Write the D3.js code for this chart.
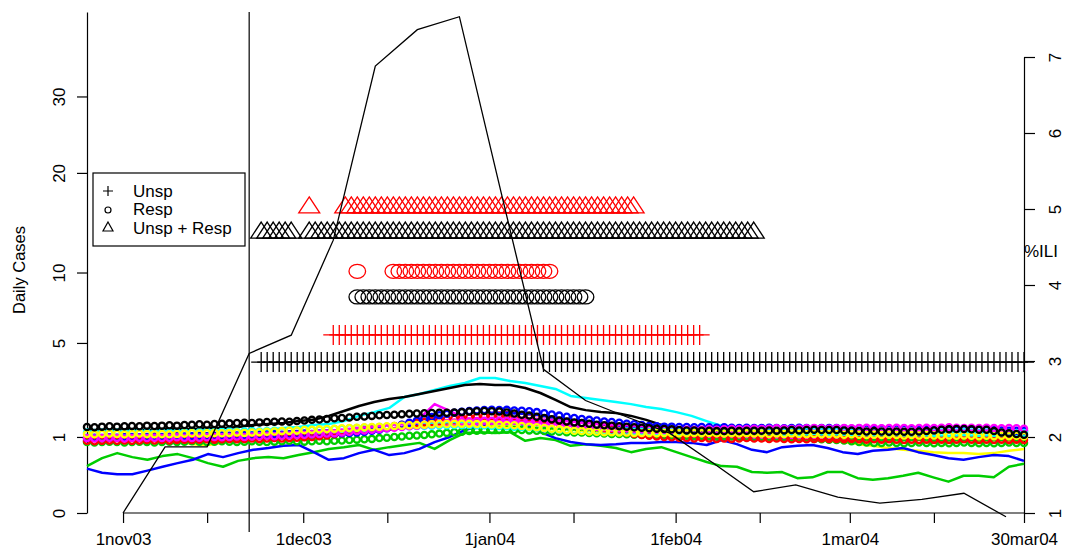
<!DOCTYPE html>
<html><head><meta charset="utf-8">
<script src="https://cdn.jsdelivr.net/npm/d3@7"></script>
<style>
body{margin:0;background:#fff}
svg{display:block}
text{font-family:"Liberation Sans",Arial,Helvetica,sans-serif;fill:#000}
</style>
</head><body>
<svg id="c" width="1067" height="550"></svg>
<script>
// ---------- data ----------
const startDate = "2003-10-26", endDate = "2004-03-30";
const yTop = 43.4;
const yTicks = [0, 1, 5, 10, 20, 30];
const iliTicks = [1, 2, 3, 4, 5, 6, 7];
const majorTickDates = ["2003-11-01","2003-12-01","2004-01-01","2004-02-01","2004-03-01","2004-03-30"];
const majorTickLabels = ["1nov03","1dec03","1jan04","1feb04","1mar04","30mar04"];
const minorTickDates = ["2003-11-15","2003-12-15","2004-01-15","2004-02-15","2004-03-15"];
const markerLineDate = "2003-11-22";

// weekly %ILI starting 1 Nov 2003
const iliStart = "2003-11-01";
const iliValues = [1.0,1.87,1.87,3.10,3.34,4.59,6.88,7.36,7.53,5.2,2.89,2.48,2.26,2.05,1.67,1.28,1.37,1.21,1.13,1.18,1.26,0.95];

// alarm rows: day offsets from startDate (inclusive ranges) and row level (daily cases)
const unspBlackDays = [[29,156]];   const unspBlackLevel = 3.94;
const unspRedDays   = [[41,102]];   const unspRedLevel   = 5.48;
const respBlackDays = [[45,83]];    const respBlackLevel = 8.07;
const respRedDays   = [[45,45],[51,77]]; const respRedLevel = 10.1;
const bothBlackDays = [[29,34],[37,111]]; const bothBlackLevel = 13.65;
const bothRedDays   = [[37,37],[43,91]];  const bothRedLevel   = 16.2;

// solid-line series (63 points across the date range)
const lineCyan = [0.92,0.92,0.95,0.95,0.97,0.97,1.00,1.00,1.03,1.05,
1.11,1.13,1.19,1.25,1.28,1.34,1.37,1.46,1.63,1.76,
1.91,2.33,2.45,2.62,2.79,2.92,3.15,3.15,3.01,2.92,
2.79,2.66,2.37,2.29,2.21,2.13,2.05,1.94,1.87,1.76,
1.63,1.46,1.31,1.25,1.22,1.19,1.16,1.19,1.16,1.13,
1.16,1.19,1.16,1.13,1.16,1.13,1.16,1.19,1.16,1.13,
1.16,1.13,1.11];
const lineBlack = [1.19,1.19,1.19,1.22,1.19,1.22,1.22,1.22,1.25,1.25,
1.28,1.34,1.37,1.40,1.46,1.50,1.63,1.80,1.98,2.13,
2.25,2.33,2.45,2.57,2.70,2.83,2.88,2.83,2.83,2.70,
2.49,2.21,1.94,1.83,1.76,1.73,1.63,1.50,1.34,1.22,
1.19,1.16,1.19,1.16,1.16,1.13,1.16,1.19,1.16,1.16,
1.13,1.16,1.16,1.19,1.16,1.13,1.16,1.19,1.16,1.13,
1.11,1.11,1.08];
const lineBlue = [0.34,0.28,0.26,0.26,0.31,0.37,0.43,0.49,0.60,0.54,
0.62,0.69,0.73,0.78,0.80,0.64,0.49,0.52,0.62,0.69,
0.58,0.62,0.71,0.87,1.00,1.19,1.31,1.40,1.43,1.34,
1.13,0.97,0.87,0.82,0.80,0.82,0.85,0.85,0.87,0.87,
0.85,0.80,0.92,0.82,0.69,0.64,0.75,0.78,0.80,0.73,
0.64,0.60,0.67,0.69,0.73,0.64,0.58,0.52,0.49,0.54,
0.58,0.56,0.47];
const lineGreen = [0.38,0.52,0.62,0.54,0.49,0.56,0.60,0.52,0.43,0.37,
0.47,0.52,0.54,0.52,0.58,0.64,0.71,0.75,0.80,0.69,
0.75,0.80,0.85,0.71,0.92,1.11,1.13,1.11,1.13,0.90,
0.97,0.92,0.78,0.82,0.78,0.73,0.64,0.71,0.75,0.64,
0.54,0.45,0.38,0.37,0.29,0.28,0.29,0.21,0.22,0.29,
0.29,0.21,0.19,0.21,0.24,0.28,0.22,0.17,0.24,0.24,
0.22,0.37,0.42];
const lineYellow = [0.97,0.95,0.92,0.95,0.92,0.90,0.87,0.82,0.80,0.85,
0.92,0.97,1.00,1.03,1.05,1.08,1.11,1.13,1.16,1.19,
1.22,1.25,1.28,1.31,1.34,1.34,1.37,1.34,1.31,1.28,
1.25,1.22,1.19,1.16,1.13,1.11,1.08,1.08,1.05,1.05,
1.03,1.03,1.00,1.00,0.97,0.97,0.95,0.95,0.92,0.90,
0.87,0.82,0.78,0.73,0.69,0.67,0.64,0.62,0.62,0.60,
0.62,0.67,0.71];
const lineRed = [0.90,0.89,0.91,0.90,0.92,0.90,0.91,0.89,0.90,0.91,
0.92,0.94,0.96,0.98,1.00,1.03,1.06,1.10,1.14,1.17,
1.20,1.26,1.31,1.35,1.40,1.43,1.47,1.49,1.50,1.48,
1.44,1.40,1.34,1.27,1.20,1.14,1.08,1.03,1.00,0.98,
0.97,0.95,0.96,0.94,0.93,0.92,0.93,0.91,0.92,0.93,
0.91,0.92,0.90,0.91,0.93,0.92,0.90,0.91,0.92,0.91,
0.92,0.91,0.90];
const lineMagenta = [0.93,0.92,0.94,0.93,0.92,0.94,0.95,0.93,0.94,0.96,
0.97,0.99,1.01,1.03,1.05,1.08,1.11,1.14,1.17,1.20,
1.22,1.30,1.55,2.05,1.80,1.55,1.50,1.48,1.46,1.44,
1.42,1.38,1.33,1.28,1.22,1.16,1.12,1.09,1.06,1.04,
1.02,1.01,1.00,0.99,0.98,0.99,0.98,0.97,0.98,0.99,
0.98,0.97,0.98,0.97,0.96,0.97,0.98,0.97,0.96,0.97,
0.98,0.97,0.96];

// circle-marked series (126 points across the date range)
const circBlack = [1.28,1.27,1.29,1.30,1.29,1.30,1.31,1.30,1.32,1.31,
1.32,1.33,1.32,1.34,1.35,1.36,1.35,1.37,1.38,1.39,
1.40,1.41,1.40,1.42,1.43,1.44,1.45,1.44,1.46,1.48,
1.50,1.51,1.53,1.55,1.56,1.58,1.60,1.61,1.63,1.65,
1.66,1.67,1.69,1.70,1.71,1.72,1.73,1.74,1.74,1.75,
1.76,1.78,1.79,1.80,1.79,1.78,1.75,1.71,1.67,1.64,
1.60,1.56,1.52,1.48,1.45,1.42,1.40,1.38,1.35,1.33,
1.32,1.30,1.29,1.27,1.26,1.24,1.23,1.22,1.21,1.19,
1.18,1.18,1.17,1.17,1.16,1.16,1.17,1.16,1.17,1.17,
1.17,1.18,1.17,1.18,1.19,1.18,1.19,1.20,1.19,1.19,
1.19,1.18,1.17,1.16,1.15,1.16,1.15,1.14,1.15,1.14,
1.14,1.15,1.16,1.18,1.20,1.21,1.22,1.22,1.21,1.20,
1.20,1.16,1.12,1.10,1.08,1.06];
const circBlue = [0.97,0.98,0.97,0.99,0.98,0.99,1.00,0.99,1.00,1.01,
1.00,1.01,1.02,1.01,1.02,1.03,1.02,1.03,1.04,1.03,
1.04,1.05,1.04,1.05,1.06,1.07,1.06,1.07,1.08,1.09,
1.08,1.09,1.10,1.09,1.10,1.11,1.12,1.14,1.17,1.20,
1.24,1.29,1.35,1.41,1.47,1.53,1.59,1.65,1.70,1.74,
1.77,1.80,1.82,1.83,1.84,1.83,1.84,1.82,1.81,1.79,
1.76,1.72,1.68,1.64,1.60,1.56,1.53,1.50,1.48,1.45,
1.43,1.41,1.38,1.36,1.34,1.31,1.30,1.29,1.29,1.28,
1.28,1.27,1.28,1.27,1.26,1.27,1.26,1.25,1.26,1.25,
1.25,1.26,1.25,1.24,1.25,1.26,1.25,1.24,1.25,1.25,
1.25,1.24,1.23,1.24,1.23,1.22,1.23,1.22,1.23,1.22,
1.22,1.21,1.22,1.21,1.20,1.21,1.20,1.21,1.20,1.19,
1.19,1.20,1.18,1.17,1.17,1.16];
const circRed = [0.90,0.89,0.90,0.91,0.90,0.91,0.90,0.91,0.92,0.91,
0.92,0.91,0.92,0.93,0.92,0.93,0.94,0.93,0.94,0.95,
0.94,0.95,0.96,0.95,0.96,0.97,0.96,0.97,0.98,0.99,
1.00,1.02,1.04,1.07,1.10,1.13,1.16,1.19,1.22,1.25,
1.28,1.31,1.34,1.37,1.40,1.43,1.46,1.49,1.52,1.54,
1.56,1.58,1.60,1.62,1.63,1.64,1.65,1.64,1.62,1.59,
1.56,1.53,1.50,1.47,1.44,1.40,1.36,1.32,1.28,1.24,
1.20,1.16,1.12,1.08,1.05,1.03,1.01,1.00,0.99,0.98,
0.97,0.96,0.97,0.96,0.95,0.96,0.95,0.96,0.97,0.96,
0.96,0.95,0.96,0.95,0.94,0.95,0.94,0.95,0.96,0.95,
0.95,0.94,0.95,0.94,0.93,0.94,0.93,0.94,0.93,0.92,
0.93,0.92,0.93,0.92,0.93,0.92,0.93,0.94,0.93,0.92,
0.93,0.92,0.93,0.92,0.93,0.92];
const circMagenta = [0.97,0.96,0.97,0.98,0.97,0.96,0.97,0.98,0.97,0.98,
0.97,0.98,0.99,0.98,0.97,0.98,0.99,1.00,0.99,1.00,
1.01,1.00,1.01,1.02,1.03,1.02,1.03,1.04,1.05,1.06,
1.07,1.08,1.09,1.10,1.12,1.14,1.16,1.18,1.20,1.22,
1.24,1.26,1.28,1.30,1.32,1.34,1.36,1.38,1.40,1.42,
1.44,1.45,1.46,1.47,1.47,1.48,1.47,1.47,1.46,1.45,
1.44,1.42,1.40,1.38,1.36,1.34,1.32,1.30,1.28,1.27,
1.26,1.25,1.24,1.23,1.22,1.21,1.20,1.20,1.19,1.19,
1.20,1.19,1.20,1.21,1.20,1.21,1.22,1.21,1.22,1.23,
1.22,1.23,1.24,1.23,1.22,1.23,1.24,1.25,1.24,1.23,
1.24,1.25,1.24,1.25,1.26,1.25,1.24,1.25,1.26,1.25,
1.24,1.25,1.26,1.25,1.26,1.27,1.26,1.25,1.26,1.25,
1.26,1.25,1.24,1.25,1.24,1.23];
const circGreen = [0.87,0.86,0.87,0.88,0.87,0.86,0.87,0.88,0.87,0.86,
0.87,0.88,0.87,0.88,0.89,0.88,0.87,0.88,0.89,0.88,
0.87,0.88,0.89,0.88,0.87,0.88,0.89,0.90,0.89,0.88,
0.89,0.90,0.89,0.90,0.91,0.92,0.93,0.94,0.95,0.97,
0.98,1.00,1.01,1.03,1.04,1.05,1.07,1.09,1.11,1.13,
1.14,1.16,1.17,1.18,1.19,1.19,1.20,1.19,1.19,1.18,
1.17,1.16,1.15,1.14,1.13,1.12,1.12,1.11,1.10,1.09,
1.08,1.08,1.07,1.06,1.06,1.05,1.05,1.04,1.04,1.03,
1.03,1.02,1.03,1.02,1.01,1.02,1.01,1.00,1.01,1.00,
1.00,0.99,1.00,0.99,0.98,0.97,0.96,0.95,0.94,0.93,
0.92,0.91,0.89,0.87,0.86,0.85,0.85,0.86,0.85,0.84,
0.85,0.86,0.85,0.84,0.85,0.84,0.85,0.86,0.85,0.84,
0.85,0.84,0.85,0.86,0.85,0.85];
const circYellow = [1.08,1.07,1.08,1.09,1.08,1.07,1.08,1.09,1.08,1.07,
1.08,1.07,1.08,1.09,1.10,1.09,1.10,1.11,1.10,1.11,
1.12,1.11,1.12,1.13,1.14,1.15,1.16,1.17,1.18,1.19,
1.20,1.21,1.22,1.23,1.24,1.25,1.26,1.27,1.28,1.29,
1.30,1.31,1.32,1.33,1.34,1.35,1.36,1.37,1.37,1.38,
1.38,1.38,1.37,1.37,1.36,1.35,1.34,1.33,1.31,1.29,
1.27,1.25,1.23,1.21,1.19,1.17,1.16,1.15,1.14,1.13,
1.13,1.12,1.12,1.11,1.11,1.11,1.10,1.11,1.10,1.10,
1.10,1.11,1.10,1.11,1.10,1.09,1.10,1.09,1.10,1.09,
1.09,1.08,1.09,1.08,1.09,1.08,1.07,1.08,1.07,1.08,
1.07,1.06,1.07,1.06,1.05,1.06,1.05,1.06,1.05,1.04,
1.05,1.04,1.05,1.04,1.03,1.04,1.03,1.04,1.03,1.02,
1.03,1.02,1.03,1.02,1.03,1.02];
const circCyan = [1.12,1.11,1.12,1.13,1.12,1.11,1.12,1.13,1.12,1.11,
1.12,1.11,1.12,1.13,1.12,1.13,1.14,1.13,1.14,1.15,
1.14,1.15,1.16,1.15,1.16,1.17,1.16,1.17,1.18,1.19,
1.19,1.20,1.21,1.22,1.23,1.24,1.25,1.26,1.27,1.28,
1.28,1.29,1.30,1.30,1.31,1.32,1.32,1.33,1.33,1.34,
1.34,1.34,1.33,1.33,1.32,1.31,1.30,1.29,1.28,1.27,
1.26,1.24,1.22,1.20,1.19,1.18,1.17,1.16,1.16,1.15,
1.15,1.14,1.15,1.14,1.14,1.13,1.14,1.13,1.14,1.13,
1.13,1.14,1.13,1.14,1.15,1.14,1.15,1.16,1.15,1.16,
1.15,1.16,1.15,1.14,1.15,1.14,1.15,1.16,1.15,1.14,
1.15,1.14,1.13,1.14,1.13,1.12,1.13,1.12,1.13,1.12,
1.12,1.13,1.12,1.11,1.12,1.11,1.12,1.13,1.12,1.11,
1.12,1.11,1.12,1.11,1.10,1.11];

const lineSeries = [
  {v: lineYellow, c: "#ffff00"},
  {v: lineRed, c: "#ff0000"},
  {v: lineMagenta, c: "#ff00ff"},
  {v: lineGreen, c: "#00cd00"},
  {v: lineBlue, c: "#0000ff"},
  {v: lineCyan, c: "#00ffff"},
  {v: lineBlack, c: "#000000"}
];
const circSeries = [
  {v: circGreen, c: "#00cd00"},
  {v: circRed, c: "#ff0000"},
  {v: circBlue, c: "#0000ff"},
  {v: circCyan, c: "#00ffff"},
  {v: circMagenta, c: "#ff00ff"},
  {v: circYellow, c: "#ffff00"},
  {v: circBlack, c: "#000000"}
];

// ---------- drawing ----------
const parse = d3.utcParse("%Y-%m-%d");
const t0 = parse(startDate), t1 = parse(endDate);
const x = d3.scaleUtc().domain([t0, t1]).range([87, 1024]);
const y = d3.scaleSqrt().domain([0, yTop]).range([513, 12]);
const yIli = d3.scaleLinear().domain([1, 7]).range([513, 57]);
const svg = d3.select("#c");
const FS = 17;

// vertical reference line
const xv = x(parse(markerLineDate));
svg.append("line").attr("x1", xv).attr("x2", xv).attr("y1", 12).attr("y2", 532)
  .attr("stroke", "#000").attr("stroke-width", 1.2);

// left axis
const gL = svg.append("g").attr("transform", "translate(87,0)")
  .call(d3.axisLeft(y).tickValues(yTicks).tickSize(10).tickSizeOuter(0).tickFormat(d3.format("d")));
gL.attr("font-size", FS).attr("font-family", null);
gL.selectAll("path,line").attr("stroke", "#000").attr("stroke-width", 1.2);
gL.selectAll(".tick text").attr("transform", "rotate(-90)").attr("x", 0).attr("y", -22)
  .attr("dy", 0).attr("text-anchor", "middle");

// bottom axis
const majorDates = majorTickDates.map(parse);
const gB = svg.append("g").attr("transform", "translate(0,513)")
  .call(d3.axisBottom(x).tickValues(majorDates).tickSize(10).tickFormat((d, i) => majorTickLabels[i]));
gB.attr("font-size", FS).attr("font-family", null);
gB.select(".domain").remove();
gB.selectAll("line").attr("stroke", "#000").attr("stroke-width", 1.2);
gB.selectAll(".tick text").attr("y", 32).attr("dy", 0);
const gBm = svg.append("g").attr("transform", "translate(0,513)")
  .call(d3.axisBottom(x).tickValues(minorTickDates.map(parse)).tickSize(10).tickFormat(""));
gBm.select(".domain").remove();
gBm.selectAll("line").attr("stroke", "#000").attr("stroke-width", 1.2);
svg.append("line").attr("x1", x(majorDates[0])).attr("x2", x(majorDates[majorDates.length - 1]))
  .attr("y1", 513).attr("y2", 513).attr("stroke", "#000").attr("stroke-width", 1.2);

// right axis
const gR = svg.append("g").attr("transform", "translate(1024,0)")
  .call(d3.axisRight(yIli).tickValues(iliTicks).tickSize(11).tickSizeOuter(0).tickFormat(d3.format("d")));
gR.attr("font-size", FS).attr("font-family", null);
gR.selectAll("path,line").attr("stroke", "#000").attr("stroke-width", 1.2);
gR.selectAll(".tick text").attr("transform", "rotate(-90)").attr("x", 0).attr("y", 37)
  .attr("dy", 0).attr("text-anchor", "middle");

// axis titles
svg.append("text").attr("transform", "translate(25,270) rotate(-90)").attr("text-anchor", "middle")
  .attr("font-size", 16.5).text("Daily Cases");
svg.append("text").attr("x", 1024).attr("y", 257).attr("font-size", FS).text("%ILI");

// alarm marker rows
const expand = ranges => ranges.flatMap(([a, b]) => d3.range(a, b + 1)).map(d => d3.utcDay.offset(t0, d));
const plusPath = "M-10,0H10M0,-10V10";
const triPath = "M0,-10L10.5,6L-10.5,6Z";
function pathRow(days, level, color, p) {
  svg.append("g").selectAll("path").data(expand(days)).join("path")
    .attr("transform", d => `translate(${x(d)},${y(level)})`).attr("d", p)
    .attr("fill", "none").attr("stroke", color).attr("stroke-width", 1.3);
}
function circRow(days, level, color) {
  svg.append("g").selectAll("ellipse").data(expand(days)).join("ellipse")
    .attr("cx", d => x(d)).attr("cy", y(level)).attr("rx", 8.3).attr("ry", 7)
    .attr("fill", "none").attr("stroke", color).attr("stroke-width", 1.3);
}
pathRow(unspBlackDays, unspBlackLevel, "#000", plusPath);
pathRow(unspRedDays, unspRedLevel, "#ff0000", plusPath);
circRow(respBlackDays, respBlackLevel, "#000");
circRow(respRedDays, respRedLevel, "#ff0000");
pathRow(bothBlackDays, bothBlackLevel, "#000", triPath);
pathRow(bothRedDays, bothRedLevel, "#ff0000", triPath);

// solid series
const xLine = d3.scaleLinear().domain([0, lineCyan.length - 1]).range([x(t0), x(t1)]);
const lineGen = d3.line().x((d, i) => xLine(i)).y(d => y(d));
lineSeries.forEach(s => {
  svg.append("path").attr("d", lineGen(s.v)).attr("fill", "none")
    .attr("stroke", s.c).attr("stroke-width", 2.5).attr("stroke-linejoin", "round");
});

// circle series
const xCirc = d3.scaleLinear().domain([0, circBlack.length - 1]).range([x(t0), x(t1)]);
circSeries.forEach(s => {
  svg.append("g").selectAll("circle").data(s.v).join("circle")
    .attr("cx", (d, i) => xCirc(i)).attr("cy", d => y(d)).attr("r", 3.1)
    .attr("fill", "none").attr("stroke", s.c).attr("stroke-width", 2.3);
});

// %ILI weekly line
const iliDates = iliValues.map((v, k) => d3.utcDay.offset(parse(iliStart), 7 * k));
svg.append("path").attr("d", d3.line().x((d, i) => x(iliDates[i])).y(d => yIli(d))(iliValues))
  .attr("fill", "none").attr("stroke", "#000").attr("stroke-width", 1.3);

// legend
const lg = svg.append("g");
lg.append("rect").attr("x", 93).attr("y", 173).attr("width", 152).attr("height", 73)
  .attr("fill", "#fff").attr("stroke", "#000").attr("stroke-width", 1.2);
const legendItems = ["Unsp", "Resp", "Unsp + Resp"];
const legendY = [197, 215, 234];
lg.append("path").attr("d", `M103,${legendY[0]-6}H113M108,${legendY[0]-11}V${legendY[0]-1}`)
  .attr("stroke", "#000").attr("stroke-width", 1.2);
lg.append("circle").attr("cx", 108).attr("cy", legendY[1] - 5).attr("r", 3)
  .attr("fill", "none").attr("stroke", "#000").attr("stroke-width", 1.2);
lg.append("path").attr("d", `M108,${legendY[2]-12}L113,${legendY[2]-3}L103,${legendY[2]-3}Z`)
  .attr("fill", "none").attr("stroke", "#000").attr("stroke-width", 1.2);
legendItems.forEach((t, i) => {
  lg.append("text").attr("x", 133).attr("y", legendY[i]).attr("font-size", 17).text(t);
});
</script>
</body></html>
